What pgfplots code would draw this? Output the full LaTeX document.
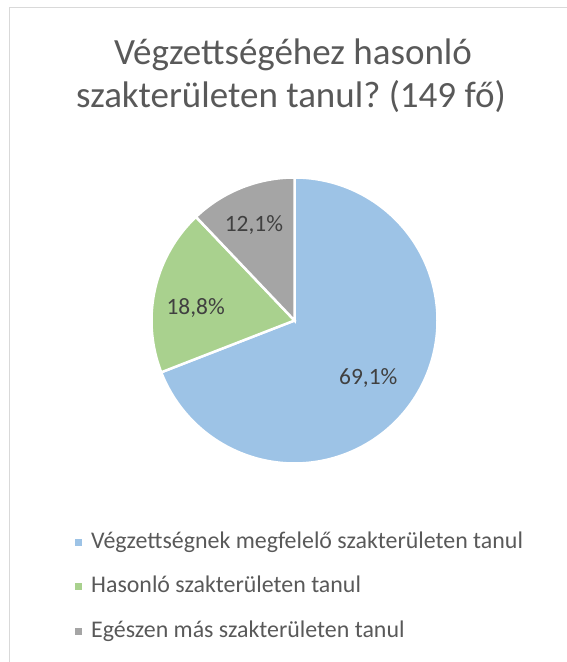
\documentclass[border=0pt]{standalone}
\usepackage{pgfplots}
\pgfplotsset{compat=1.18}
\usepackage{fontspec}
\setmainfont{Carlito}
\frenchspacing
\definecolor{pieblue}{HTML}{9DC3E6}
\definecolor{piegreen}{HTML}{A9D18E}
\definecolor{piegrey}{HTML}{A5A5A5}
\definecolor{titlegrey}{HTML}{595959}
\definecolor{labelgrey}{HTML}{404040}
\definecolor{framegrey}{HTML}{D9D9D9}
\begin{document}
\begin{tikzpicture}[x=1bp,y=1bp]
\path[use as bounding box] (0,0) rectangle (567,662);
\draw[framegrey, line width=1bp] (9.5,0) -- (9.5,654) -- (567,654);
\coordinate (pc) at (294.5,341.5);
% title
\node[text=titlegrey, font=\fontsize{37bp}{44bp}\selectfont, anchor=base] at (293,662-65) {Végzettségéhez hasonló};
\node[text=titlegrey, font=\fontsize{37bp}{44bp}\selectfont, anchor=base] at (291,662-108) {szakterületen tanul? (149 fő)};
\begin{axis}[at={(pc)}, anchor=center, scale only axis,
  width=286bp, height=286bp, xmin=-1, xmax=1, ymin=-1, ymax=1, hide axis, clip=false]
% values: 69.1, 18.8, 12.1 (percent), clockwise from 12 o'clock
\addplot[fill=pieblue, draw=white, line width=2.5bp, domain=90:{90-69.1*3.6}, samples=150, variable=\t]
  ({cos(t)},{sin(t)}) -- (0,0) -- cycle;
\addplot[fill=piegreen, draw=white, line width=2.5bp, domain={90-69.1*3.6}:{90-(69.1+18.8)*3.6}, samples=60, variable=\t]
  ({cos(t)},{sin(t)}) -- (0,0) -- cycle;
\addplot[fill=piegrey, draw=white, line width=2.5bp, domain={90-(69.1+18.8)*3.6}:{90-100*3.6}, samples=40, variable=\t]
  ({cos(t)},{sin(t)}) -- (0,0) -- cycle;
\node[text=labelgrey, font=\fontsize{23.4bp}{26bp}\selectfont] at (0.516,-0.404) {69,1\%};
\node[text=labelgrey, font=\fontsize{23.4bp}{26bp}\selectfont] at (-0.691,0.088) {18,8\%};
\node[text=labelgrey, font=\fontsize{23.4bp}{26bp}\selectfont] at (-0.284,0.670) {12,1\%};
\end{axis}
% legend
\foreach \c/\t/\yy in {pieblue/Végzettségnek megfelelő szakterületen tanul/549, piegreen/Hasonló szakterületen tanul/593, piegrey/Egészen más szakterületen tanul/638}{
  \fill[\c] (75,662-\yy+3) rectangle (82,662-\yy+10);
  \node[text=titlegrey, font=\fontsize{23.9bp}{27bp}\selectfont, anchor=base west, inner xsep=0pt] at (91,662-\yy) {\t};
}
\end{tikzpicture}
\end{document}
